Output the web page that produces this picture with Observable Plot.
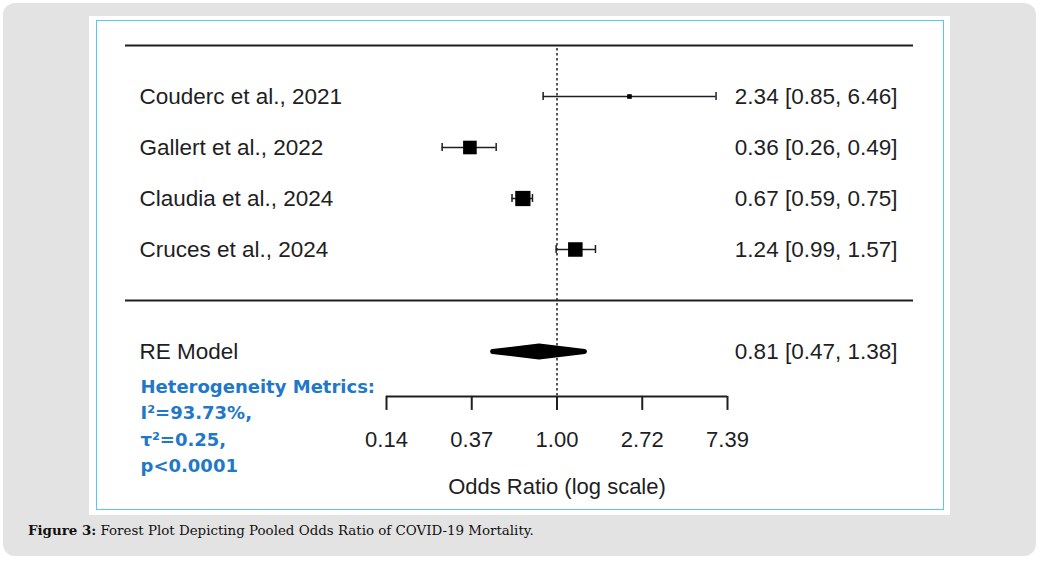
<!DOCTYPE html>
<html>
<head>
<meta charset="utf-8">
<script src="https://cdn.jsdelivr.net/npm/d3@7"></script>
<script src="https://cdn.jsdelivr.net/npm/@observablehq/plot@0.6"></script>
<style>
  html, body { margin: 0; padding: 0; background: #ffffff; width: 1042px; height: 562px; overflow: hidden; }
  #bg { position: absolute; left: 3px; top: 3px; width: 1033px; height: 553px; background: #e3e3e3; border-radius: 12px; }
  #panel { position: absolute; left: 89px; top: 16px; width: 861px; height: 499px; background: #ffffff; }
  #frame { position: absolute; left: 96px; top: 20px; width: 846px; height: 488px; border: 1.5px solid #5cc6f2; }
  #chart { position: absolute; left: 0; top: 0; }
  #caption { position: absolute; left: 28px; top: 522px; font-family: "DejaVu Serif", serif; font-size: 13.4px; color: #111; white-space: nowrap; }
  #caption b { font-weight: bold; }
</style>
</head>
<body>
<div id="bg"></div>
<div id="panel"></div>
<div id="frame"></div>
<div id="chart"></div>
<div id="caption"><b>Figure 3:</b> Forest Plot Depicting Pooled Odds Ratio of COVID-19 Mortality.</div>
<script>
// ---- data ----
const studies   = ["Couderc et al., 2021", "Gallert et al., 2022", "Claudia et al., 2024", "Cruces et al., 2024"];
const estimates = [2.34, 0.36, 0.67, 1.24];
const lowerCI   = [0.85, 0.26, 0.59, 0.99];
const upperCI   = [6.46, 0.49, 0.75, 1.57];
const weights   = [14.5, 27.3, 29.6, 28.6];   // random-effects weights (%)
const pooledLabel = "RE Model";
const pooledEst = 0.81, pooledLo = 0.47, pooledHi = 1.38;
const tickLogs   = [-2, -1, 0, 1, 2];
const tickLabels = ["0.14", "0.37", "1.00", "2.72", "7.39"];
const hetLines = ["Heterogeneity Metrics:", "I\u00B2=93.73%,", "\u03C4\u00B2=0.25,", "p<0.0001"];
const axisTitle = "Odds Ratio (log scale)";

// ---- layout rows ----
const studyRows = [4, 3, 2, 1];
const pooledRow = -1;
const topRow = 5, sepRow = 0;
const axisRow = -1.88, tickEndRow = -2.155;

const studyData = studies.map((s, i) => ({
  label: s, row: studyRows[i], est: estimates[i], lo: lowerCI[i], hi: upperCI[i], w: weights[i]
}));
const fmt = v => v.toFixed(2);
const allRows = [...studyData, {label: pooledLabel, row: pooledRow, est: pooledEst, lo: pooledLo, hi: pooledHi}];
const dh = 5.5 / 51;
const diamond = [
  {x: pooledLo, y: pooledRow}, {x: pooledEst, y: pooledRow + dh},
  {x: pooledHi, y: pooledRow}, {x: pooledEst, y: pooledRow - dh}, {x: pooledLo, y: pooledRow}
];
const ticks = tickLogs.map((l, i) => ({x: Math.exp(l), label: tickLabels[i]}));
const capH = 4 / 51;
const ink = "#1e1e24";
const font = "'Liberation Sans', Arial, sans-serif";

const plot = Plot.plot({
  width: 1042, height: 515,
  marginLeft: 125, marginRight: 129, marginTop: 0, marginBottom: 0,
  style: {background: "transparent", fontFamily: font},
  x: {type: "log", domain: [Math.exp(-2), Math.exp(2)], range: [386, 727], axis: null},
  y: {domain: [-1, 5], range: [351, 45], axis: null},
  r: {type: "linear", domain: [14.5, 28.6], range: [2.6, 8.2]},
  marks: [
    Plot.ruleY([topRow, sepRow], {stroke: ink, strokeWidth: 2}),
    Plot.ruleX([1], {y1: topRow - 0.06, y2: axisRow, stroke: ink, strokeWidth: 1.5, strokeDasharray: "2.5,2.5"}),
    Plot.ruleY(studyData, {y: "row", x1: "lo", x2: "hi", stroke: ink, strokeWidth: 1.5}),
    Plot.ruleX(studyData, {x: "lo", y1: d => d.row - capH, y2: d => d.row + capH, stroke: ink, strokeWidth: 1.5}),
    Plot.ruleX(studyData, {x: "hi", y1: d => d.row - capH, y2: d => d.row + capH, stroke: ink, strokeWidth: 1.5}),
    Plot.dot(studyData, {x: "est", y: "row", r: "w", symbol: "square", fill: "black", stroke: null}),
    Plot.line(diamond, {x: "x", y: "y", fill: "black", stroke: "black", strokeWidth: 5, strokeLinejoin: "round"}),
    Plot.text(allRows, {y: "row", text: "label", frameAnchor: "left", dx: 14, textAnchor: "start", fontSize: 22.5, fill: ink}),
    Plot.text(allRows, {y: "row", text: d => `${fmt(d.est)} [${fmt(d.lo)}, ${fmt(d.hi)}]`, frameAnchor: "right", dx: -16, textAnchor: "end", fontSize: 22.5, fill: ink}),
    Plot.ruleY([axisRow], {x1: Math.exp(-2), x2: Math.exp(2), stroke: ink, strokeWidth: 2}),
    Plot.ruleX(ticks, {x: "x", y1: axisRow, y2: tickEndRow, stroke: ink, strokeWidth: 2}),
    Plot.text(ticks, {x: "x", y: axisRow, dy: 44, text: "label", fontSize: 22, fill: ink}),
    Plot.text([axisTitle], {x: 1, y: axisRow, dy: 91, text: d => d, fontSize: 22, fill: ink}),
    Plot.text([hetLines.join("\n")], {y: -2.422, frameAnchor: "left", dx: 15, textAnchor: "start", text: d => d,
      fontSize: 18, fontWeight: "bold", lineHeight: 1.46, fill: "#1f78c8", fontFamily: "'DejaVu Sans', sans-serif"})
  ]
});
document.getElementById("chart").appendChild(plot);
</script>
</body>
</html>
